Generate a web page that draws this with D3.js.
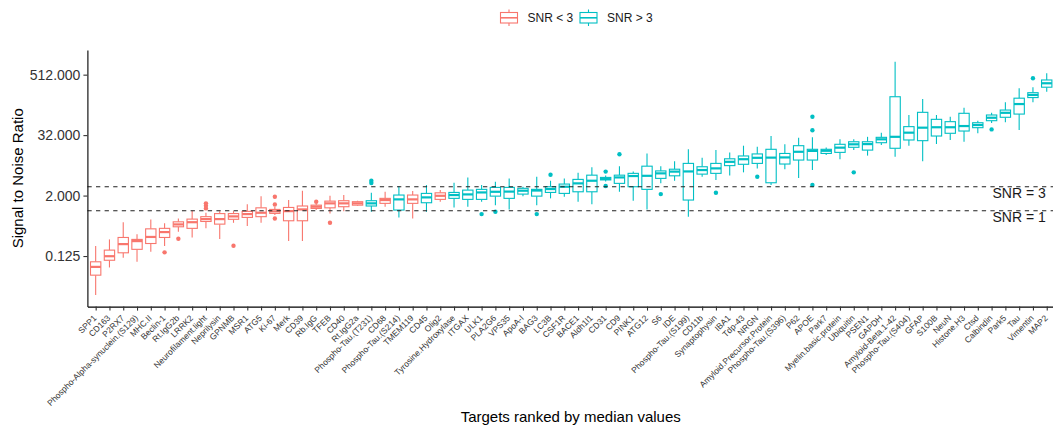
<!DOCTYPE html>
<html>
<head>
<meta charset="utf-8">
<script src="https://cdn.jsdelivr.net/npm/d3@7"></script>
<style>
  body { margin: 0; background: #fff; }
  svg { display: block; }
  text { font-family: "Liberation Sans", Arial, Helvetica, sans-serif; }
</style>
</head>
<body>
<svg id="chart" width="1053" height="427"></svg>
<script>
// Targets, ordered by median signal-to-noise ratio
const categories = [
  "SPP1", "CD163", "P2RX7", "Phospho-Alpha-synuclein.(S129)", "MHC.II", "Beclin-1",
  "Rt.IgG2b", "LRRK2", "Neurofilament.light", "Neprilysin", "GPNMB", "MSR1", "ATG5",
  "Ki-67", "Merk", "CD39", "Rb.IgG", "TFEB", "CD40", "Rt.IgG2a", "Phospho-Tau.(T231)",
  "CD68", "Phospho-Tau.(S214)", "TMEM119", "CD45", "Olig2", "Tyrosine.Hydroxylase",
  "ITGAX", "ULK1", "PLA2G6", "VPS35", "ApoA-I", "BAG3", "LC3B", "CSF1R", "BACE1",
  "Aldh1l1", "CD31", "CD9", "PINK1", "ATG12", "S6", "IDE", "Phospho-Tau.(S199)",
  "CD11b", "Synaptophysin", "IBA1", "Tdp-43", "NRGN", "Amyloid.Precursor.Protein",
  "Phospho-Tau.(S396)", "P62", "APOE", "Park7", "Myelin.basic.protein", "Ubiquitin",
  "PSEN1", "GAPDH", "Amyloid-Beta.1-42", "Phospho-Tau.(S404)", "GFAP", "S100B", "NeuN",
  "Histone.H3", "Ctsd", "Calbindin", "Park5", "Tau", "Vimentin", "MAP2"
];

// SNR class of each target
const snrGroup = [
  "lt3", "lt3", "lt3", "lt3", "lt3", "lt3", "lt3", "lt3", "lt3", "lt3",
  "lt3", "lt3", "lt3", "lt3", "lt3", "lt3", "lt3", "lt3", "lt3", "lt3",
  "gt3", "lt3", "gt3", "lt3", "gt3", "lt3", "gt3", "gt3", "gt3", "gt3",
  "gt3", "gt3", "gt3", "gt3", "gt3", "gt3", "gt3", "gt3", "gt3", "gt3",
  "gt3", "gt3", "gt3", "gt3", "gt3", "gt3", "gt3", "gt3", "gt3", "gt3",
  "gt3", "gt3", "gt3", "gt3", "gt3", "gt3", "gt3", "gt3", "gt3", "gt3",
  "gt3", "gt3", "gt3", "gt3", "gt3", "gt3", "gt3", "gt3", "gt3", "gt3"
];

// Box-plot statistics per target (signal to noise ratio)
const whiskerLow = [
  0.021, 0.074, 0.115, 0.096, 0.152, 0.197, 0.38, 0.293, 0.445, 0.272,
  0.574, 0.493, 0.574, 0.82, 0.25, 0.25, 1.03, 0.88, 0.98, 1.24,
  0.95, 1.2, 0.735, 0.70, 0.95, 1.51, 1.16, 1.2, 1.51, 1.29,
  1.06, 1.95, 1.29, 1.76, 1.89, 1.51, 1.35, 3.83, 2.38, 1.58,
  1.06, 3.5, 3.95, 0.76, 4.75, 4.1, 5.0, 5.8, 6.96, 3.24,
  6.7, 4.5, 6.45, 12.8, 10.6, 16.1, 12.5, 20.3, 11.9, 19.7,
  9.7, 21.3, 25.6, 23.6, 34.8, 55.7, 57.7, 40.5, 144, 234
];
const q1 = [
  0.052, 0.103, 0.145, 0.17, 0.222, 0.293, 0.478, 0.445, 0.61, 0.54,
  0.674, 0.735, 0.76, 0.883, 0.63, 0.63, 1.11, 1.14, 1.2, 1.29,
  1.24, 1.40, 1.03, 1.40, 1.44, 1.68, 1.76, 1.68, 1.68, 1.95,
  1.76, 2.14, 1.95, 2.31, 2.21, 2.38, 2.38, 4.1, 3.5, 3.0,
  2.66, 4.4, 4.95, 1.63, 5.35, 5.54, 7.9, 8.4, 8.75, 3.6,
  8.5, 10.2, 10.2, 13.8, 14.5, 18.3, 16.1, 22.6, 17.5, 25.6,
  24.8, 30.7, 34.8, 38.6, 45, 62, 72.5, 84, 179, 288
];
const medians = [
  0.076, 0.124, 0.216, 0.248, 0.30, 0.375, 0.533, 0.59, 0.68, 0.68,
  0.77, 0.856, 0.91, 0.97, 0.98, 1.06, 1.2, 1.40, 1.40, 1.40,
  1.40, 1.63, 1.68, 1.68, 1.84, 1.98, 2.05, 2.11, 2.31, 2.38,
  2.4, 2.5, 2.52, 2.7, 3.0, 3.5, 3.95, 4.3, 4.6, 4.9,
  4.95, 5.54, 6.0, 6.05, 6.45, 6.96, 9.4, 10.6, 11.3, 11.4,
  11.5, 14.9, 15.5, 15.6, 18, 21, 21.2, 26.4, 29.6, 35.8,
  45, 45.9, 45.9, 48.5, 50.9, 71, 89, 133, 202, 345
];
const q3 = [
  0.096, 0.164, 0.293, 0.268, 0.435, 0.445, 0.60, 0.68, 0.76, 0.875,
  0.876, 0.97, 1.14, 1.06, 1.16, 1.24, 1.29, 1.55, 1.58, 1.51,
  1.58, 1.76, 2.05, 2.05, 2.21, 2.27, 2.31, 2.57, 2.66, 2.91,
  2.91, 2.79, 2.66, 3.0, 3.39, 4.2, 5.1, 4.6, 5.1, 5.54,
  7.7, 6.2, 6.7, 8.75, 7.5, 8.75, 10.8, 12.3, 13.5, 16.7,
  13.8, 19.7, 16.7, 16.7, 21, 23.6, 23.6, 28.9, 186, 47.2,
  91, 66, 59.3, 87, 56.5, 80.5, 101, 174, 224, 401
];
const whiskerHigh = [
  0.197, 0.268, 0.59, 0.341, 0.67, 0.56, 0.70, 1.0, 0.91, 0.98,
  0.98, 1.35, 1.95, 1.18, 1.63, 2.5, 1.38, 1.98, 2.05, 1.58,
  2.27, 2.38, 3.1, 2.46, 3.24, 2.57, 3.6, 4.6, 3.24, 3.76,
  4.4, 3.0, 4.75, 3.95, 4.4, 5.7, 7.3, 5.0, 7.7, 6.0,
  13.8, 7.7, 9.7, 16.7, 11.3, 16.1, 14.4, 19.7, 18.8, 30.7,
  21, 28.4, 28.9, 18.1, 26.4, 26.4, 29.6, 35.8, 929, 80.5,
  168, 80.5, 74.5, 112, 62, 89, 144, 274, 288, 545
];
const outliers = [
  [], [], [], [], [], [0.148], [0.276], [], [1.11, 1.25, 1.40], [],
  [0.20], [], [], [0.70, 1.33, 1.89], [], [], [1.51], [0.574], [], [],
  [3.55, 3.95], [], [], [], [], [], [], [], [0.856], [0.95],
  [], [], [0.856], [5.2], [], [], [], [3.1, 6.0], [13.3], [],
  [], [2.14], [], [], [], [2.27], [], [], [4.75], [],
  [], [], [3.24, 40, 74.5], [], [], [5.8], [], [], [], [],
  [], [], [], [], [], [41.6], [], [], [434], []
];

const yTicks = [0.125, 2, 32, 512];
const thresholds = [3, 1];
const thresholdLabels = ["SNR = 3", "SNR = 1"];
const legendKeys = ["lt3", "gt3"];
const legendLabels = ["SNR < 3", "SNR > 3"];

const svg = d3.select("#chart");
const panel = { left: 87.4, right: 1055, top: 50, bottom: 306.6 };

const x = d3.scalePoint()
  .domain(categories)
  .range([panel.left, panel.right])
  .padding(0.6);

// log2 scale with a 5% margin around the data range
const allValues = whiskerLow.concat(whiskerHigh, outliers.flat());
const lo = Math.log2(d3.min(allValues));
const hi = Math.log2(d3.max(allValues));
const pad = (hi - lo) * 0.05;
const y = d3.scaleLog().base(2)
  .domain([Math.pow(2, lo - pad), Math.pow(2, hi + pad)])
  .range([panel.bottom, panel.top]);

const color = d3.scaleOrdinal().domain(legendKeys).range(["#F8766D", "#00BFC4"]);

const boxW = x.step() * 0.75;

const rows = categories.map((c, i) => ({
  name: c, group: snrGroup[i], lo: whiskerLow[i], q1: q1[i], med: medians[i],
  q3: q3[i], hi: whiskerHigh[i], out: outliers[i]
}));

const boxes = svg.append("g").attr("class", "boxes");
const g = boxes.selectAll("g").data(rows).join("g")
  .attr("transform", d => `translate(${x(d.name)},0)`);

g.append("line")
  .attr("y1", d => y(d.q3)).attr("y2", d => y(d.hi))
  .attr("stroke", d => color(d.group)).attr("stroke-width", 1.1);
g.append("line")
  .attr("y1", d => y(d.q1)).attr("y2", d => y(d.lo))
  .attr("stroke", d => color(d.group)).attr("stroke-width", 1.1);
g.append("rect")
  .attr("x", -boxW / 2).attr("width", boxW)
  .attr("y", d => y(d.q3)).attr("height", d => Math.max(0.5, y(d.q1) - y(d.q3)))
  .attr("fill", "#fff").attr("stroke", d => color(d.group)).attr("stroke-width", 1.1);
g.append("line")
  .attr("x1", -boxW / 2).attr("x2", boxW / 2)
  .attr("y1", d => y(d.med)).attr("y2", d => y(d.med))
  .attr("stroke", d => color(d.group)).attr("stroke-width", 2.2);
g.selectAll("circle").data(d => d.out.map(v => ({ v, group: d.group }))).join("circle")
  .attr("cy", d => y(d.v)).attr("r", 2.2)
  .attr("fill", d => color(d.group));

// threshold reference lines
svg.append("g").selectAll("line").data(thresholds).join("line")
  .attr("x1", panel.left).attr("x2", panel.right)
  .attr("y1", d => y(d)).attr("y2", d => y(d))
  .attr("stroke", "#222").attr("stroke-width", 1.1)
  .attr("stroke-dasharray", "4.3,4.3");

svg.append("g").selectAll("text").data(thresholds).join("text")
  .attr("x", x("Tau"))
  .attr("y", d => y(d) + 11)
  .attr("text-anchor", "middle")
  .attr("font-size", 14)
  .attr("fill", "#1a1a1a")
  .text((d, i) => thresholdLabels[i]);

// axes
const yAxis = svg.append("g")
  .attr("transform", `translate(${panel.left},0)`)
  .call(d3.axisLeft(y).tickValues(yTicks).tickFormat(d3.format(".3f"))
    .tickSizeInner(4).tickSizeOuter(0).tickPadding(3));
yAxis.selectAll("text").attr("font-size", 14).attr("fill", "#333")
  .attr("font-family", "'Liberation Sans', Arial, sans-serif");
yAxis.select(".domain").attr("stroke", "#000").attr("stroke-width", 1.1);
yAxis.selectAll(".tick line").attr("stroke", "#333").attr("stroke-width", 1.1);

const xAxis = svg.append("g")
  .attr("transform", `translate(0,${panel.bottom})`)
  .call(d3.axisBottom(x).tickSizeInner(4).tickSizeOuter(0));
xAxis.select(".domain").attr("stroke", "#000").attr("stroke-width", 1.1);
xAxis.selectAll(".tick line").attr("stroke", "#333").attr("stroke-width", 1.1);
xAxis.selectAll(".tick text")
  .attr("font-size", 8.5)
  .attr("fill", "#333")
  .attr("font-family", "'Liberation Sans', Arial, sans-serif")
  .attr("text-anchor", "end")
  .attr("y", 0).attr("dy", 0)
  .attr("transform", "translate(1,12) rotate(-45)");

// axis titles
svg.append("text")
  .attr("transform", `translate(23,${(panel.top + panel.bottom) / 2}) rotate(-90)`)
  .attr("text-anchor", "middle")
  .attr("font-size", 15)
  .attr("fill", "#000")
  .text("Signal to Noise Ratio");

svg.append("text")
  .attr("x", (panel.left + panel.right) / 2 - 0.5)
  .attr("y", 422)
  .attr("text-anchor", "middle")
  .attr("font-size", 15)
  .attr("fill", "#000")
  .text("Targets ranked by median values");

// legend
const legendX = [500.5, 580];
const leg = svg.append("g").selectAll("g").data(legendKeys).join("g")
  .attr("transform", (d, i) => `translate(${legendX[i]},0)`);
leg.append("line").attr("x1", 8.5).attr("x2", 8.5).attr("y1", 9.5).attr("y2", 26)
  .attr("stroke", d => color(d)).attr("stroke-width", 1.1);
leg.append("rect").attr("x", 0).attr("y", 12.5).attr("width", 17).attr("height", 10.5)
  .attr("fill", "#fff").attr("stroke", d => color(d)).attr("stroke-width", 1.1);
leg.append("line").attr("x1", 0).attr("x2", 17).attr("y1", 17.8).attr("y2", 17.8)
  .attr("stroke", d => color(d)).attr("stroke-width", 1.6);
leg.append("text").attr("x", 27).attr("y", 22)
  .attr("font-size", 12).attr("fill", "#1a1a1a")
  .text((d, i) => legendLabels[i]);
</script>
</body>
</html>
